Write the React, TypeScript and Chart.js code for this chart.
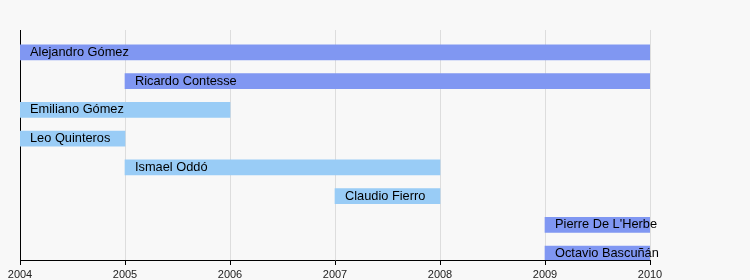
import React, { useEffect, useRef } from "react";
import { Chart, registerables } from "chart.js";

Chart.register(...registerables);

const names = [
  "Alejandro Gómez",
  "Ricardo Contesse",
  "Emiliano Gómez",
  "Leo Quinteros",
  "Ismael Oddó",
  "Claudio Fierro",
  "Pierre De L'Herbe",
  "Octavio Bascuñán",
];
const starts = [2004, 2005, 2004, 2004, 2005, 2007, 2009, 2009];
const ends = [2010, 2010, 2006, 2005, 2008, 2008, 2010, 2010];
const groups = ["A", "A", "B", "B", "B", "B", "A", "A"];
const yearTicks = [2004, 2005, 2006, 2007, 2008, 2009, 2010];

const groupColors: Record<string, string> = {
  A: "rgb(128,151,242)",
  B: "rgb(153,204,246)",
};

const FONT = "'Liberation Sans', Arial, sans-serif";

const barLabels = {
  id: "barLabels",
  afterDatasetsDraw(chart: any) {
    const ctx = chart.ctx;
    const meta = chart.getDatasetMeta(0);
    ctx.save();
    ctx.font = `12.8px ${FONT}`;
    ctx.fillStyle = "#000";
    ctx.textBaseline = "middle";
    ctx.textAlign = "left";
    meta.data.forEach((el: any, i: number) => {
      const p = el.getProps(["x", "base", "y"], true);
      const left = Math.min(p.x, p.base);
      ctx.fillText(names[i], left + 10, p.y);
    });
    ctx.restore();
  },
};

export default function App() {
  const ref = useRef<HTMLCanvasElement>(null);
  useEffect(() => {
    if (!ref.current) return;
    const chart = new Chart(ref.current, {
      type: "bar",
      data: {
        datasets: [
          {
            data: names.map((_, i) => ({ x: [starts[i], ends[i]], y: i })) as any,
            backgroundColor: groups.map((g) => groupColors[g]),
            barThickness: 15,
            borderWidth: 0,
          },
        ],
      },
      options: {
        indexAxis: "y",
        animation: false,
        responsive: false,
        maintainAspectRatio: false,
        layout: { padding: { top: 30, left: 20, right: 100, bottom: 0 } },
        plugins: {
          legend: { display: false },
          tooltip: { enabled: false },
        },
        scales: {
          x: {
            type: "linear",
            min: yearTicks[0],
            max: yearTicks[yearTicks.length - 1],
            afterBuildTicks: (axis: any) => {
              axis.ticks = yearTicks.map((v) => ({ value: v }));
            },
            afterFit: (axis: any) => {
              axis.height = 20;
            },
            ticks: {
              color: "#222",
              font: { size: 11, family: FONT },
              padding: 3,
              maxRotation: 0,
              autoSkip: false,
              callback: (v: any) => String(v),
            },
            grid: {
              color: "#dddddd",
              tickColor: "#000",
              tickLength: 5,
              drawTicks: true,
            },
            border: { display: true, color: "#000", width: 1 },
          },
          y: {
            type: "linear",
            offset: false,
            reverse: true,
            min: -0.78,
            max: 7.22,
            afterFit: (axis: any) => {
              axis.width = 0;
            },
            ticks: { display: false },
            grid: { display: false, drawTicks: false, offset: false },
            border: { display: true, color: "#000", width: 1 },
          },
        },
      },
      plugins: [barLabels],
    });
    return () => chart.destroy();
  }, []);
  return (
    <div
      style={{
        position: "fixed",
        left: 0,
        top: 0,
        width: 750,
        height: 280,
        background: "#f8f8f8",
      }}
    >
      <canvas ref={ref} width={750} height={280} style={{ display: "block" }} />
    </div>
  );
}
